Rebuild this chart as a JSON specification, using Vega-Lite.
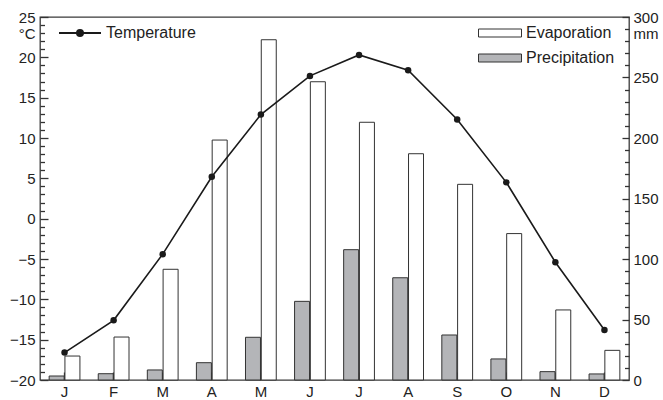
{
  "$schema": "https://vega.github.io/schema/vega-lite/v6.json",
  "width": 589,
  "height": 363,
  "autosize": "none",
  "padding": {"left": 40, "top": 17, "right": 34, "bottom": 20},
  "datasets": {
    "bars": [
      {"month": "Jan", "series": "Precipitation", "value": 3.3},
      {"month": "Feb", "series": "Precipitation", "value": 5.2},
      {"month": "Mar", "series": "Precipitation", "value": 8.3},
      {"month": "Apr", "series": "Precipitation", "value": 14.3},
      {"month": "May", "series": "Precipitation", "value": 35.3},
      {"month": "Jun", "series": "Precipitation", "value": 65},
      {"month": "Jul", "series": "Precipitation", "value": 107.7},
      {"month": "Aug", "series": "Precipitation", "value": 84.5},
      {"month": "Sep", "series": "Precipitation", "value": 37.2},
      {"month": "Oct", "series": "Precipitation", "value": 17.4},
      {"month": "Nov", "series": "Precipitation", "value": 6.9},
      {"month": "Dec", "series": "Precipitation", "value": 5},
      {"month": "Jan", "series": "Evaporation", "value": 19.8},
      {"month": "Feb", "series": "Evaporation", "value": 35.5},
      {"month": "Mar", "series": "Evaporation", "value": 91.5},
      {"month": "Apr", "series": "Evaporation", "value": 198.3},
      {"month": "May", "series": "Evaporation", "value": 281.2},
      {"month": "Jun", "series": "Evaporation", "value": 246.5},
      {"month": "Jul", "series": "Evaporation", "value": 213},
      {"month": "Aug", "series": "Evaporation", "value": 187},
      {"month": "Sep", "series": "Evaporation", "value": 161.7},
      {"month": "Oct", "series": "Evaporation", "value": 121},
      {"month": "Nov", "series": "Evaporation", "value": 57.9},
      {"month": "Dec", "series": "Evaporation", "value": 24.5}
    ],
    "temp": [
      {"month": "Jan", "temperature": -16.6},
      {"month": "Feb", "temperature": -12.6},
      {"month": "Mar", "temperature": -4.4},
      {"month": "Apr", "temperature": 5.2},
      {"month": "May", "temperature": 12.9},
      {"month": "Jun", "temperature": 17.7},
      {"month": "Jul", "temperature": 20.3},
      {"month": "Aug", "temperature": 18.4},
      {"month": "Sep", "temperature": 12.3},
      {"month": "Oct", "temperature": 4.5},
      {"month": "Nov", "temperature": -5.4},
      {"month": "Dec", "temperature": -13.8}
    ]
  },
  "encoding": {
    "x": {
      "field": "month",
      "type": "nominal",
      "scale": {
        "domain": ["Jan","Feb","Mar","Apr","May","Jun","Jul","Aug","Sep","Oct","Nov","Dec"],
        "paddingInner": 0.373,
        "paddingOuter": 0.1865
      },
      "axis": {
        "title": null,
        "labelAngle": 0,
        "labelExpr": "slice(datum.label, 0, 1)",
        "tickSize": -8,
        "labelPadding": 12
      }
    }
  },
  "layer": [
    {
      "data": {"name": "bars"},
      "mark": {"type": "bar", "stroke": "#333", "strokeWidth": 1},
      "encoding": {
        "xOffset": {
          "field": "series",
          "type": "nominal",
          "scale": {"domain": ["Precipitation", "Evaporation"], "paddingInner": 0.05}
        },
        "y": {
          "field": "value",
          "type": "quantitative",
          "scale": {"domain": [0, 300], "nice": false, "zero": false},
          "axis": {
            "orient": "right",
            "values": [0,10,20,30,40,50,60,70,80,90,100,110,120,130,140,150,160,170,180,190,200,210,220,230,240,250,260,270,280,290,300],
            "labelExpr": "datum.value % 50 === 0 ? datum.label : ''",
            "tickSize": {"condition": {"test": "datum.value % 50 === 0", "value": -7}, "value": -4.5},
            "labelPadding": 11,
            "labelOverlap": false,
            "title": "mm",
            "titleAngle": 0,
            "titleAlign": "left",
            "titleBaseline": "middle",
            "titleX": 4,
            "titleY": 16
          }
        },
        "fill": {
          "field": "series",
          "type": "nominal",
          "scale": {"domain": ["Evaporation", "Precipitation"], "range": ["#ffffff", "#b4b5b8"]},
          "legend": {
            "title": null,
            "orient": "none",
            "legendX": 452,
            "legendY": 8,
            "symbolType": "M-4.3,-0.8H4.3V0.8H-4.3Z",
            "symbolSize": 100,
            "symbolStrokeColor": "#333",
            "symbolStrokeWidth": 1,
            "labelOffset": 18,
            "labelFontSize": 16,
            "rowPadding": 9,
            "padding": 0
          }
        }
      }
    },
    {
      "data": {"name": "temp"},
      "encoding": {
        "y": {
          "field": "temperature",
          "type": "quantitative",
          "scale": {"domain": [-20, 25], "nice": false, "zero": false},
          "axis": {
            "orient": "left",
            "values": [-20,-19,-18,-17,-16,-15,-14,-13,-12,-11,-10,-9,-8,-7,-6,-5,-4,-3,-2,-1,0,1,2,3,4,5,6,7,8,9,10,11,12,13,14,15,16,17,18,19,20,21,22,23,24,25],
            "labelExpr": "datum.value % 5 === 0 ? datum.label : ''",
            "tickSize": {"condition": {"test": "datum.value % 5 === 0", "value": -8}, "value": -4.5},
            "labelPadding": 13,
            "labelOverlap": false,
            "title": "°C",
            "titleAngle": 0,
            "titleAlign": "right",
            "titleBaseline": "middle",
            "titleX": -5,
            "titleY": 16
          }
        }
      },
      "layer": [
        {
          "mark": {"type": "line", "strokeWidth": 1.6},
          "encoding": {
            "stroke": {
              "datum": "Temperature",
              "type": "nominal",
              "scale": {"domain": ["Temperature"], "range": ["#1a1a1a"]},
              "legend": {
                "title": null,
                "orient": "none",
                "legendX": 32,
                "legendY": 8,
                "symbolType": "M-4.2,0H4.2M-0.6,0A0.6,0.6 0 1,0 0.6,0A0.6,0.6 0 1,0 -0.6,0Z",
                "symbolSize": 100,
                "symbolStrokeWidth": 2,
                "labelOffset": 18,
                "labelFontSize": 16,
                "padding": 0,
                "encode": {"symbols": {"update": {"fill": {"value": "#1a1a1a"}}}}
              }
            }
          }
        },
        {
          "mark": {"type": "point", "filled": true, "size": 42, "color": "#1a1a1a", "opacity": 1}
        }
      ]
    }
  ],
  "resolve": {"scale": {"y": "independent"}},
  "config": {
    "font": "Liberation Sans",
    "view": {"stroke": "#3a3a3a", "strokeWidth": 1.3},
    "axis": {
      "domain": false,
      "grid": false,
      "labelFont": "Liberation Sans",
      "labelFontSize": 15,
      "labelColor": "#222",
      "tickColor": "#333",
      "tickWidth": 1.3,
      "titleFont": "Liberation Sans",
      "titleFontSize": 15,
      "titleFontWeight": "normal",
      "titleColor": "#222"
    },
    "legend": {
      "labelFont": "Liberation Sans",
      "labelFontSize": 16,
      "labelColor": "#222"
    }
  }
}
